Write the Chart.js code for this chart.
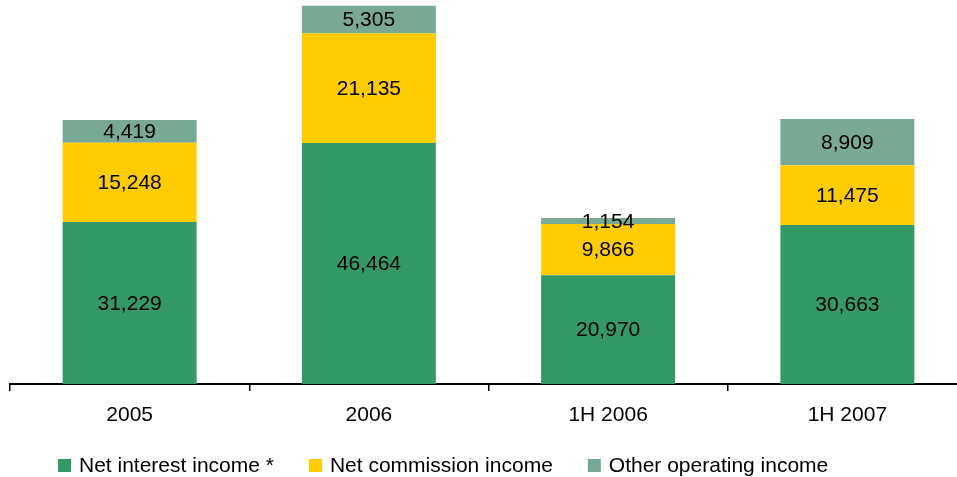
<!DOCTYPE html>
<html>
<head>
<meta charset="utf-8">
<script src="https://cdn.jsdelivr.net/npm/chart.js@4/dist/chart.umd.min.js"></script>
<style>
  html, body { margin: 0; padding: 0; background: #fff; overflow: hidden; width: 957px; height: 477px; }
  #wrap { width: 967px; height: 477px; position: relative; }
</style>
</head>
<body>
<div id="wrap"><canvas id="c"></canvas></div>
<script>
// Operating income breakdown by period
const categories = ['2005', '2006', '1H 2006', '1H 2007'];
const netInterestIncome = [31229, 46464, 20970, 30663];
const netCommissionIncome = [15248, 21135, 9866, 11475];
const otherOperatingIncome = [4419, 5305, 1154, 8909];
const seriesNames = ['Net interest income *', 'Net commission income', 'Other operating income'];
const seriesColors = ['#339966', '#FFCC00', '#78A994'];

const FONT = '"Liberation Sans", Arial, Helvetica, sans-serif';
const FONT_SIZE = 21;

// Value labels centred inside each stacked segment
const segmentLabels = {
  id: 'segmentLabels',
  afterDatasetsDraw(chart) {
    const ctx = chart.ctx;
    ctx.save();
    ctx.font = FONT_SIZE + 'px ' + FONT;
    ctx.fillStyle = '#000';
    ctx.textAlign = 'center';
    ctx.textBaseline = 'middle';
    chart.data.datasets.forEach((ds, di) => {
      const meta = chart.getDatasetMeta(di);
      meta.data.forEach((bar, i) => {
        const v = ds.data[i];
        const yMid = (bar.y + bar.base) / 2;
        ctx.fillText(v.toLocaleString('en-US'), bar.x, yMid + 1);
      });
    });
    ctx.restore();
  }
};

// Legend row along the bottom edge
const bottomLegend = {
  id: 'bottomLegend',
  afterDraw(chart) {
    const ctx = chart.ctx;
    ctx.save();
    ctx.font = FONT_SIZE + 'px ' + FONT;
    ctx.textBaseline = 'middle';
    ctx.textAlign = 'left';
    const box = 13, textGap = 8, itemGap = 35, yc = 465.5;
    let x = 58;
    chart.data.datasets.forEach(ds => {
      ctx.fillStyle = ds.backgroundColor;
      ctx.fillRect(x, yc - box / 2, box, box);
      ctx.fillStyle = '#000';
      const tx = x + box + textGap;
      ctx.fillText(ds.label, tx, yc + 1);
      x = tx + ctx.measureText(ds.label).width + itemGap;
    });
    ctx.restore();
  }
};

const datasets = [netInterestIncome, netCommissionIncome, otherOperatingIncome].map((d, i) => ({
  label: seriesNames[i],
  data: d,
  backgroundColor: seriesColors[i],
  borderWidth: 0,
  barPercentage: 0.56,
  categoryPercentage: 1.0
}));

new Chart(document.getElementById('c'), {
  type: 'bar',
  data: { labels: categories, datasets },
  options: {
    responsive: true,
    maintainAspectRatio: false,
    animation: false,
    layout: { padding: { left: 10, right: 0, top: 0, bottom: 50 } },
    plugins: { legend: { display: false }, tooltip: { enabled: false } },
    scales: {
      x: {
        stacked: true,
        offset: true,
        afterFit(scale) { scale.height = 43; },
        grid: {
          offset: true,
          drawOnChartArea: false,
          drawTicks: true,
          tickLength: 7,
          color: '#000',
          lineWidth: 1.5
        },
        border: { display: true, color: '#000', width: 2 },
        ticks: {
          color: '#000',
          padding: 12,
          font: { family: FONT, size: FONT_SIZE }
        }
      },
      y: {
        stacked: true,
        display: false,
        min: 0,
        max: 74000
      }
    }
  },
  plugins: [segmentLabels, bottomLegend]
});
</script>
</body>
</html>
